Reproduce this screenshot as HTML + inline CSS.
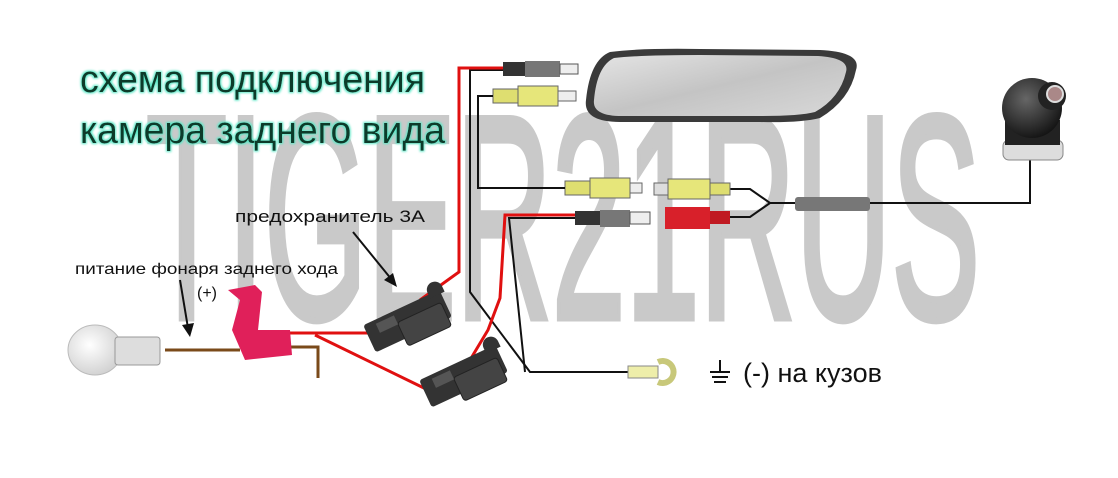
<!DOCTYPE html>
<html><head><meta charset="utf-8"><style>
html,body{margin:0;padding:0;background:#fff;width:1118px;height:478px;overflow:hidden}
svg{display:block}
</style></head><body>
<svg width="1118" height="478" viewBox="0 0 1118 478" xmlns="http://www.w3.org/2000/svg">
<defs>
<linearGradient id="mir" x1="0" y1="0" x2="1" y2="1"><stop offset="0" stop-color="#e4e4e4"/><stop offset="0.5" stop-color="#c4c4c4"/><stop offset="1" stop-color="#d8d8d8"/></linearGradient>
<radialGradient id="cam" cx="0.4" cy="0.35" r="0.7"><stop offset="0" stop-color="#666"/><stop offset="1" stop-color="#111"/></radialGradient>
<radialGradient id="bulb" cx="0.4" cy="0.4" r="0.7"><stop offset="0" stop-color="#fff"/><stop offset="1" stop-color="#ccc"/></radialGradient>
<filter id="glow"><feMorphology operator="dilate" radius="1" in="SourceAlpha" result="d"/><feGaussianBlur in="d" stdDeviation="1" result="b"/><feFlood flood-color="#5fe8c8"/><feComposite in2="b" operator="in" result="g"/><feMerge><feMergeNode in="g"/><feMergeNode in="SourceGraphic"/></feMerge></filter>
</defs>

<!-- watermark -->
<text x="146" y="318" font-family="Liberation Sans, sans-serif" font-size="290" fill="#c9c9c9" stroke="#c9c9c9" stroke-width="7" textLength="834" lengthAdjust="spacingAndGlyphs">TIGER21RUS</text>

<!-- title -->
<g filter="url(#glow)" font-family="Liberation Sans, sans-serif" font-size="38" fill="#073a2c">
<text x="80" y="92" textLength="345" lengthAdjust="spacingAndGlyphs">схема подключения</text>
<text x="80" y="143" textLength="365" lengthAdjust="spacingAndGlyphs">камера заднего вида</text>
</g>

<!-- mirror -->
<path d="M610 52 Q640 48 700 49 L820 50 Q862 52 856 70 Q850 100 820 118 Q800 123 760 122 L620 122 Q583 122 586 100 Q590 60 610 52 Z" fill="#3a3a3a"/>
<path d="M614 58 Q640 55 700 55 L818 56 Q850 58 846 72 Q840 98 815 112 Q800 116 760 116 L622 116 Q592 116 594 100 Q597 66 614 58 Z" fill="url(#mir)"/>

<!-- camera -->
<path d="M1030 160 L1030 203 L870 203" fill="none" stroke="#111" stroke-width="2"/>
<rect x="1003" y="140" width="60" height="20" rx="6" fill="#ddd" stroke="#888"/>
<rect x="1005" y="120" width="55" height="25" fill="#222"/>
<circle cx="1032" cy="108" r="30" fill="url(#cam)"/>
<circle cx="1052" cy="96" r="14" fill="#222"/>
<circle cx="1055" cy="94" r="8" fill="#a88" stroke="#ddd" stroke-width="2"/>

<!-- inline box & split -->
<rect x="795" y="197" width="75" height="14" rx="3" fill="#777"/>
<path d="M795 203 L770 203 L750 189 L730 189 M770 203 L750 217 L730 217" fill="none" stroke="#111" stroke-width="2"/>
<rect x="654" y="183" width="14" height="12" fill="#ddd" stroke="#666"/>
<rect x="668" y="179" width="42" height="20" fill="#e6e67a" stroke="#666"/>
<rect x="710" y="183" width="20" height="12" fill="#dede70" stroke="#666"/>
<rect x="665" y="207" width="45" height="22" fill="#d8202a"/>
<rect x="710" y="211" width="20" height="13" fill="#c01a22"/>

<!-- monitor side plugs -->
<rect x="565" y="181" width="25" height="14" fill="#dede70" stroke="#666"/>
<rect x="590" y="178" width="40" height="20" fill="#e6e67a" stroke="#666"/>
<rect x="630" y="183" width="12" height="10" fill="#eee" stroke="#666"/>
<rect x="575" y="211" width="25" height="14" fill="#333"/>
<rect x="600" y="210" width="30" height="17" fill="#777"/>
<rect x="630" y="212" width="20" height="12" fill="#eee" stroke="#555"/>

<rect x="503" y="62" width="22" height="14" fill="#333"/>
<rect x="525" y="61" width="35" height="16" fill="#777"/>
<rect x="560" y="64" width="18" height="10" fill="#eee" stroke="#555"/>
<rect x="493" y="89" width="25" height="14" fill="#dede70" stroke="#666"/>
<rect x="518" y="86" width="40" height="20" fill="#e6e67a" stroke="#666"/>
<rect x="558" y="91" width="18" height="10" fill="#eee" stroke="#666"/>

<!-- black wires -->
<path d="M565 188 L478 188 L478 96 L493 96" fill="none" stroke="#111" stroke-width="2"/>
<path d="M503 70 L470 70 L470 292 L530 372 L630 372" fill="none" stroke="#111" stroke-width="2"/>
<path d="M575 218 L509 218 L525 372" fill="none" stroke="#111" stroke-width="2"/>

<!-- red wires -->
<path d="M503 68 L459 68 L459 272 L420 300" fill="none" stroke="#e01010" stroke-width="3"/>
<path d="M575 215 L505 215 L500 298 L488 330 L470 360" fill="none" stroke="#e01010" stroke-width="3"/>
<path d="M290 333 L370 333" fill="none" stroke="#e01010" stroke-width="3"/>
<path d="M315 335 L428 390" fill="none" stroke="#e01010" stroke-width="3"/>

<!-- ring terminal & ground -->
<rect x="628" y="366" width="30" height="12" fill="#eeeeaa" stroke="#888"/>
<path d="M662 372 m-4 -10 a11 11 0 1 1 0 20" fill="none" stroke="#c8c87a" stroke-width="6"/>
<path d="M720 360 L720 372 M710 372 L730 372 M712 377 L728 377 M714 382 L726 382" stroke="#111" stroke-width="2"/>
<text x="743" y="382" font-family="Liberation Sans, sans-serif" font-size="27" fill="#111">(-) на кузов</text>

<!-- fuses -->
<g transform="translate(408,322) rotate(-25)">
<rect x="-42" y="-16" width="84" height="30" rx="3" fill="#333"/>
<rect x="-10" y="-4" width="48" height="26" rx="3" fill="#444" stroke="#222"/>
<rect x="-30" y="-12" width="20" height="10" fill="#555"/>
<path d="M30 -18 a8 8 0 0 1 16 0 v6 h-16 z" fill="#333"/>
</g>
<g transform="translate(464,377) rotate(-25)">
<rect x="-42" y="-16" width="84" height="30" rx="3" fill="#333"/>
<rect x="-10" y="-4" width="48" height="26" rx="3" fill="#444" stroke="#222"/>
<rect x="-30" y="-12" width="20" height="10" fill="#555"/>
<path d="M30 -18 a8 8 0 0 1 16 0 v6 h-16 z" fill="#333"/>
</g>

<!-- bulb & brown wire -->
<path d="M165 350 L240 350 M285 347 L318 347 L318 378" fill="none" stroke="#7a4a1a" stroke-width="3"/>
<ellipse cx="95" cy="350" rx="27" ry="25" fill="url(#bulb)" stroke="#bbb"/>
<rect x="115" y="337" width="45" height="28" rx="3" fill="#ddd" stroke="#999"/>
<!-- tap -->
<path d="M228 290 L255 285 L262 292 L258 330 L290 330 L292 355 L245 360 L232 330 L240 300 Z" fill="#e0205a"/>

<!-- labels & arrows -->
<text x="235" y="222" font-family="Liberation Sans, sans-serif" font-size="17" fill="#111" textLength="190" lengthAdjust="spacingAndGlyphs">предохранитель 3А</text>
<text x="75" y="274" font-family="Liberation Sans, sans-serif" font-size="16" fill="#111" textLength="263" lengthAdjust="spacingAndGlyphs">питание фонаря заднего хода</text>
<text x="197" y="298" font-family="Liberation Sans, sans-serif" font-size="16" fill="#111">(+)</text>
<path d="M353 232 L392 280" stroke="#111" stroke-width="2"/>
<path d="M397 287 L384 280 L393 273 Z" fill="#111"/>
<path d="M180 280 L188 328" stroke="#111" stroke-width="2"/>
<path d="M190 337 L182 325 L194 323 Z" fill="#111"/>
</svg>
</body></html>
